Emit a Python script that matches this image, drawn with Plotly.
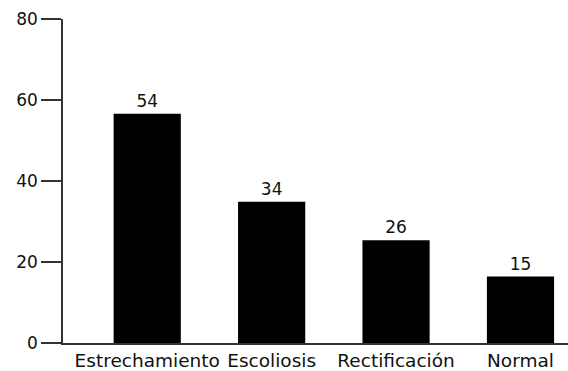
import plotly.graph_objects as go

categories = ["Estrechamiento", "Escoliosis", "Rectificación", "Normal"]
bar_heights = [56.6, 34.9, 25.4, 16.4]
bar_labels = ["54", "34", "26", "15"]
y_ticks = [0, 20, 40, 60, 80]

x_pos = list(range(len(categories)))

fig = go.Figure(go.Bar(
    x=x_pos, y=bar_heights,
    text=bar_labels, textposition="outside",
    textfont=dict(size=17, color="#111"),
    marker=dict(color="black", line=dict(width=0)),
    cliponaxis=False,
))

fig.update_layout(
    width=568, height=371,
    margin=dict(l=63, r=0, t=19, b=28),
    paper_bgcolor="white", plot_bgcolor="white",
    font=dict(family="DejaVu Sans", size=17, color="#111"),
    bargap=0.46,
    showlegend=False,
    xaxis=dict(
        range=[-0.677, 3.382],
        tickmode="array", tickvals=x_pos, ticktext=categories,
        showline=True, linecolor="#333", linewidth=1.5,
        showgrid=False, zeroline=False, ticks="",
        tickfont=dict(size=18.5), ticklabelstandoff=0,
    ),
    yaxis=dict(
        range=[0, 80],
        tickmode="array", tickvals=y_ticks,
        showline=True, linecolor="#333", linewidth=1.5,
        showgrid=False, zeroline=False,
        ticks="outside", ticklen=20, tickwidth=1.5, tickcolor="#333",
        tickfont=dict(size=17),
    ),
)

fig.write_html("out.html")
